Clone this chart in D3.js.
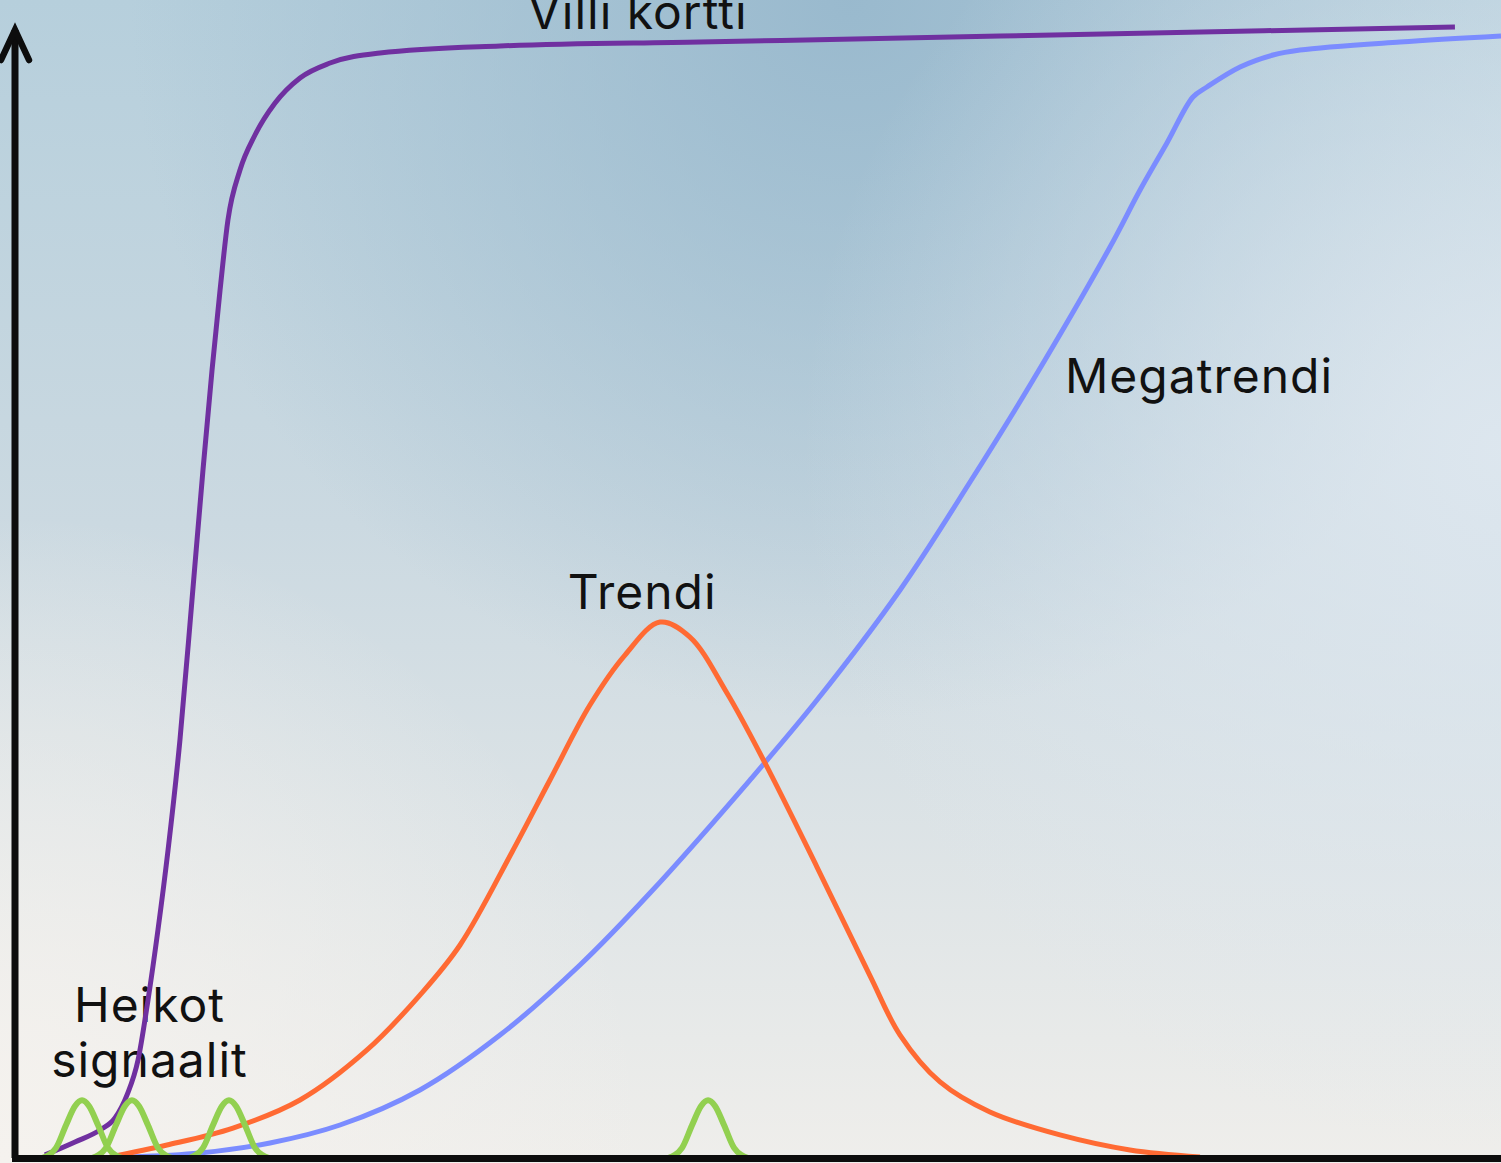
<!DOCTYPE html>
<html>
<head>
<meta charset="utf-8">
<script src="https://cdn.jsdelivr.net/npm/d3@7"></script>
<style>
  html, body { margin: 0; padding: 0; overflow: hidden; }
  svg { display: block; }
</style>
</head>
<body>
<svg id="chart" width="1501" height="1163"></svg>
<script>
// ---- data (time 0..100, level 0..100) ----
const villiX = [2.02, 4.04, 5.72, 6.73, 7.54, 8.28, 8.95, 9.62, 10.30, 11.10, 11.91, 12.65, 13.26, 13.80, 14.33, 15.14, 16.15, 17.50, 19.18, 21.20, 24.56, 32.64, 46.10, 66.29, 96.90];
const villiY = [0.27, 1.42, 2.48, 3.54, 5.58, 8.67, 13.98, 20.18, 27.26, 36.99, 49.38, 60.88, 69.73, 76.81, 83.01, 87.43, 90.53, 93.36, 95.58, 96.90, 97.79, 98.41, 98.76, 99.29, 100.09];

const megaX = [7.74, 12.45, 17.16, 21.87, 27.25, 32.64, 38.02, 42.73, 49.46, 53.97, 59.56, 64.27, 68.51, 73.69, 75.71, 77.52, 79.27, 80.21, 82.44, 84.66, 86.47, 93.20, 100];
const megaY = [0.09, 0.44, 1.33, 2.92, 6.02, 10.88, 17.08, 23.45, 33.45, 40.53, 50.27, 59.82, 68.85, 80.62, 85.66, 89.82, 93.89, 94.78, 96.55, 97.61, 98.05, 98.76, 99.29];

const trendiX = [6.39, 10.23, 14.67, 19.18, 23.69, 27.25, 29.95, 33.45, 36.00, 38.69, 41.05, 43.41, 45.42, 47.91, 50.47, 53.97, 57.54, 59.56, 62.25, 65.61, 70.32, 75.03, 79.74];
const trendiY = [0.09, 1.15, 2.65, 5.13, 9.56, 14.42, 18.85, 27.08, 33.45, 40.09, 44.51, 47.43, 46.10, 41.15, 34.96, 25.75, 16.11, 10.88, 6.73, 4.07, 2.04, 0.71, 0.09];

const signal1X = [1.82, 2.76, 3.43, 4.04, 4.51, 4.98, 5.59, 6.26, 7.20];
const signal2X = [5.18, 6.12, 6.79, 7.40, 7.87, 8.34, 8.95, 9.62, 10.56];
const signal3X = [11.71, 12.65, 13.32, 13.93, 14.40, 14.87, 15.48, 16.15, 17.09];
const signal4X = [43.95, 44.89, 45.56, 46.17, 46.64, 47.11, 47.72, 48.39, 49.33];
const signalY  = [0, 0.9, 2.9, 4.6, 5.1, 4.6, 2.9, 0.9, 0];

const labelNames = ["Villi kortti", "Megatrendi", "Trendi", "Heikot", "signaalit"];
const labelX = [41.9, 79.68, 42.2, 9.05, 9.05];
const labelY = [99.9, 67.7, 48.6, 12.04, 7.17];

// ---- drawing ----
const W = 1501, H = 1163;
const svg = d3.select("#chart");
const x = d3.scaleLinear().domain([0, 100]).range([15, 1501]);
const y = d3.scaleLinear().domain([0, 100]).range([1158, 28]);

const defs = svg.append("defs");
const lg = defs.append("linearGradient").attr("id", "bgLin")
  .attr("x1", 0).attr("y1", 0).attr("x2", 0).attr("y2", 1);
lg.append("stop").attr("offset", "0%").attr("stop-color", "#b6cfdc");
lg.append("stop").attr("offset", "45%").attr("stop-color", "#cbd9e1");
lg.append("stop").attr("offset", "100%").attr("stop-color", "#efeeeb");

const rg = defs.append("radialGradient").attr("id", "bgRad")
  .attr("gradientUnits", "userSpaceOnUse")
  .attr("cx", 850).attr("cy", 0).attr("r", 720);
rg.append("stop").attr("offset", "0%").attr("stop-color", "#96b7cc").attr("stop-opacity", 0.9);
rg.append("stop").attr("offset", "100%").attr("stop-color", "#96b7cc").attr("stop-opacity", 0);

const rg2 = defs.append("radialGradient").attr("id", "bgRad2")
  .attr("gradientUnits", "userSpaceOnUse")
  .attr("cx", 1501).attr("cy", 450).attr("r", 700);
rg2.append("stop").attr("offset", "0%").attr("stop-color", "#dfe8f0").attr("stop-opacity", 0.9);
rg2.append("stop").attr("offset", "100%").attr("stop-color", "#dfe8f0").attr("stop-opacity", 0);

const rg3 = defs.append("radialGradient").attr("id", "bgRad3")
  .attr("gradientUnits", "userSpaceOnUse")
  .attr("cx", 0).attr("cy", 1163).attr("r", 650);
rg3.append("stop").attr("offset", "0%").attr("stop-color", "#f5f2ee").attr("stop-opacity", 1);
rg3.append("stop").attr("offset", "100%").attr("stop-color", "#f5f2ee").attr("stop-opacity", 0);

svg.append("rect").attr("width", W).attr("height", H).attr("fill", "url(#bgLin)");
svg.append("rect").attr("width", W).attr("height", H).attr("fill", "url(#bgRad)");
svg.append("rect").attr("width", W).attr("height", H).attr("fill", "url(#bgRad2)");
svg.append("rect").attr("width", W).attr("height", H).attr("fill", "url(#bgRad3)");

// labels (under the curves)
svg.append("g").selectAll("text").data(labelNames).join("text")
  .attr("x", (d, i) => x(labelX[i]))
  .attr("y", (d, i) => y(labelY[i]))
  .attr("text-anchor", "middle")
  .attr("font-family", "Inter, 'Noto Sans', sans-serif")
  .attr("font-size", 48)
  .attr("letter-spacing", 1)
  .attr("fill", "#111")
  .text(d => d);

const lineMono = d3.line().x(d => x(d[0])).y(d => y(d[1])).curve(d3.curveMonotoneX);
const lineSmooth = d3.line().x(d => x(d[0])).y(d => y(d[1])).curve(d3.curveCatmullRom.alpha(0.5));
const zip = (a, b) => a.map((v, i) => [v, b[i]]);

const series = [
  { xs: megaX, ys: megaY, color: "#7b8cff", w: 5, gen: lineSmooth },
  { xs: trendiX, ys: trendiY, color: "#ff6a33", w: 5, gen: lineSmooth },
  { xs: villiX, ys: villiY, color: "#7030a0", w: 5, gen: lineMono },
  { xs: signal1X, ys: signalY, color: "#92d050", w: 6, gen: lineMono },
  { xs: signal2X, ys: signalY, color: "#92d050", w: 6, gen: lineMono },
  { xs: signal3X, ys: signalY, color: "#92d050", w: 6, gen: lineMono },
  { xs: signal4X, ys: signalY, color: "#92d050", w: 6, gen: lineMono }
];
svg.append("g").selectAll("path").data(series).join("path")
  .attr("d", s => s.gen(zip(s.xs, s.ys)))
  .attr("fill", "none")
  .attr("stroke", s => s.color)
  .attr("stroke-width", s => s.w)
  .attr("stroke-linejoin", "round");

// axes
const axisG = svg.append("g");
axisG.append("line").attr("x1", x(0)).attr("y1", y(0)).attr("x2", x(0)).attr("y2", 30)
  .attr("stroke", "#0d0d0d").attr("stroke-width", 7);
axisG.append("path")
  .attr("d", `M${x(0) - 14},${60} L${x(0)},${30} L${x(0) + 14},${60}`)
  .attr("fill", "none").attr("stroke", "#0d0d0d").attr("stroke-width", 6.5)
  .attr("stroke-linecap", "round").attr("stroke-linejoin", "miter");
axisG.append("line").attr("x1", 12).attr("y1", 1158.5).attr("x2", W).attr("y2", 1158.5)
  .attr("stroke", "#0d0d0d").attr("stroke-width", 7);
</script>
</body>
</html>
